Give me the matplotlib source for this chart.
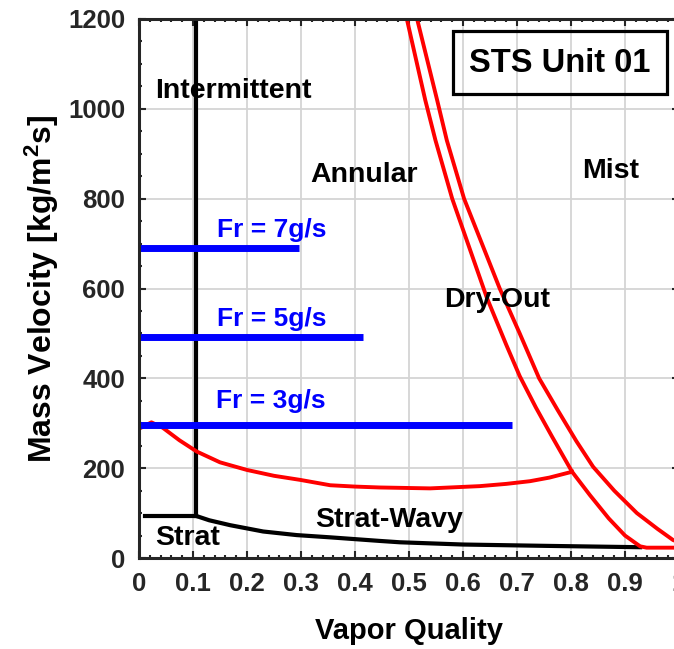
import matplotlib
matplotlib.use("Agg")
import matplotlib.pyplot as plt
from matplotlib.patches import Rectangle

plt.rcParams['font.family'] = ['Liberation Sans', 'DejaVu Sans']
plt.rcParams['font.weight'] = 'bold'
plt.rcParams['mathtext.fontset'] = 'custom'
plt.rcParams['mathtext.rm'] = 'Liberation Sans:bold'
plt.rcParams['mathtext.bf'] = 'Liberation Sans:bold'
plt.rcParams['mathtext.default'] = 'bf'

# flow pattern map boundaries (vapor quality x, mass velocity G)
strat_x = [0.011, 0.105]
strat_g = [94, 94]
interm_x = [0.105, 0.105]
interm_g = [94, 1200]
wavy_x = [0.105, 0.130, 0.169, 0.230, 0.292, 0.354, 0.446, 0.483, 0.600, 0.755, 0.928]
wavy_g = [94, 84, 73, 59, 51, 46, 38, 35, 30, 27, 24]

annular_x = [0.002, 0.023, 0.044, 0.075, 0.107, 0.150, 0.200, 0.250, 0.298, 0.354, 0.400,
             0.446, 0.539, 0.631, 0.680, 0.724, 0.760, 0.802]
annular_g = [289, 302, 290, 262, 237, 213, 196, 183, 174, 162, 159,
             157, 155, 160, 165, 171, 179, 192]

dryout_x = [0.496, 0.530, 0.549, 0.580, 0.612, 0.644, 0.680, 0.705, 0.735, 0.765, 0.802,
            0.835, 0.870, 0.900, 0.928, 0.940, 1.0]
dryout_g = [1200, 1020, 930, 800, 690, 580, 475, 405, 335, 270, 192,
            140, 88, 50, 26, 23, 23]

mist_x = [0.515, 0.552, 0.570, 0.602, 0.635, 0.668, 0.705, 0.741, 0.775, 0.810, 0.841,
          0.880, 0.922, 0.960, 0.989, 1.0]
mist_g = [1200, 1020, 930, 800, 700, 600, 500, 400, 330, 260, 203,
          150, 100, 65, 40, 35]

# operating points
flow_labels = ['Fr = 7g/s', 'Fr = 5g/s', 'Fr = 3g/s']
flow_g = [690, 493, 296]
flow_xmax = [0.296, 0.414, 0.691]
flow_lab_x = [0.145, 0.145, 0.143]
flow_lab_y = [715, 517, 333]

region_names = ['Intermittent', 'Annular', 'Mist', 'Dry-Out', 'Strat-Wavy', 'Strat']
region_x = [0.030, 0.318, 0.820, 0.565, 0.326, 0.030]
region_y = [1040, 853, 862, 574, 85, 45]

xticks = [0, 0.1, 0.2, 0.3, 0.4, 0.5, 0.6, 0.7, 0.8, 0.9, 1.0]
xticklabels = ['0', '0.1', '0.2', '0.3', '0.4', '0.5', '0.6', '0.7', '0.8', '0.9', '1']
yticks = [0, 200, 400, 600, 800, 1000, 1200]

fig = plt.figure(figsize=(6.74, 6.49), dpi=100)
ax = fig.add_axes([139 / 674, 91 / 649, 540 / 674, 539 / 649])

ax.plot(strat_x, strat_g, color='k', lw=3)
ax.plot(interm_x, interm_g, color='k', lw=3)
ax.plot(wavy_x, wavy_g, color='k', lw=3)
ax.plot(annular_x, annular_g, color='red', lw=2.8)
ax.plot(dryout_x, dryout_g, color='red', lw=2.8)
ax.plot(mist_x, mist_g, color='red', lw=2.8)

for lab, g, xm, lx, ly in zip(flow_labels, flow_g, flow_xmax, flow_lab_x, flow_lab_y):
    ax.plot([0, xm], [g, g], color='blue', lw=5, solid_capstyle='butt')
    ax.text(lx, ly, lab, color='blue', fontsize=19, fontweight='bold',
            ha='left', va='baseline')

for name, x, y in zip(region_names, region_x, region_y):
    ax.text(x, y, name, color='k', fontsize=20.5, fontweight='bold', ha='left', va='center')

ax.add_patch(Rectangle((0.581, 0.861), 0.396, 0.117, transform=ax.transAxes,
                       fill=False, ec='k', lw=2.3, zorder=5))
ax.text(0.7795, 0.917, 'STS Unit 01', transform=ax.transAxes, fontsize=23.5,
        fontweight='bold', ha='center', va='center', zorder=6)

ax.set_xlim(0, 1)
ax.set_ylim(0, 1200)
ax.set_xticks(xticks)
ax.set_xticklabels(xticklabels)
ax.set_yticks(yticks)
ax.set_xticks([i * 0.02 for i in range(51)], minor=True)
ax.set_yticks(list(range(0, 1201, 50)), minor=True)
ax.grid(True, which='major', color='#d4d4d4', lw=1.3)
ax.set_axisbelow(True)

ax.tick_params(which='both', direction='in', top=True, right=True, colors='#262626',
               labelsize=18.5, width=1.5)
ax.tick_params(which='major', length=5, pad=10)
ax.tick_params(which='minor', length=2.5)
for lbl in ax.get_xticklabels() + ax.get_yticklabels():
    lbl.set_fontweight('bold')
for sp in ax.spines.values():
    sp.set_color('#262626')
    sp.set_linewidth(2.2)

ax.set_xlabel('Vapor Quality', fontsize=21, fontweight='bold', labelpad=15)
ax.set_ylabel('Mass Velocity [kg/m$^{2}$s]', fontsize=23, fontweight='bold', labelpad=5)

fig.savefig('out.png', dpi=100)
